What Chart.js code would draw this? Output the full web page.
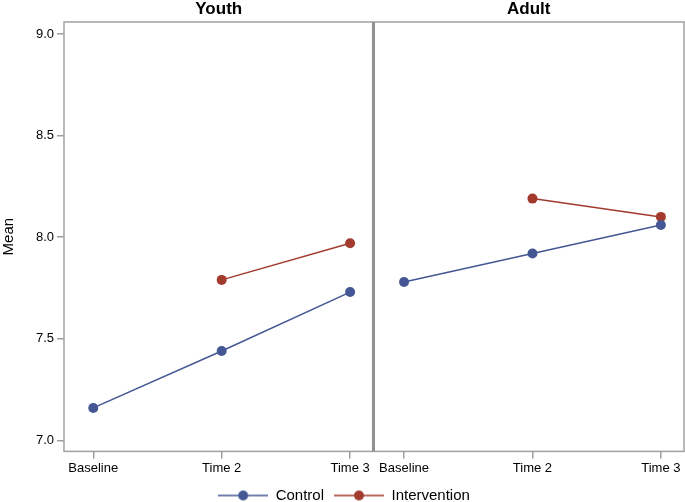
<!DOCTYPE html>
<html>
<head>
<meta charset="utf-8">
<script src="https://cdn.jsdelivr.net/npm/chart.js@4"></script>
<style>
  html, body { margin: 0; padding: 0; background: #fff; overflow: hidden; }
  #wrap { width: 685px; height: 502px; overflow: hidden; }
</style>
</head>
<body>
<div id="wrap"><canvas id="grafico" width="689" height="502"></canvas></div>
<script>
const paineis = ["Youth", "Adult"];
const tempos = ["Baseline", "Time 2", "Time 3"];
const youthControl = [7.16, 7.44, 7.73];
const youthIntervention = [null, 7.79, 7.97];
const adultControl = [7.78, 7.92, 8.06];
const adultIntervention = [null, 8.19, 8.10];
const yTicks = [7.0, 7.5, 8.0, 8.5, 9.0];

const AZUL = "#445694";
const VERMELHO = "#A23A2E";
const CINZA = "#a0a0a0";
const FONTE = "'Liberation Sans', Arial, sans-serif";

// layout dos paineis no eixo x continuo
const deslocAdult = 2.42;
const xMin = -0.228, xMax = 4.6, divisao = 2.182;

function pontos(valores, desloc) {
  const lista = [];
  valores.forEach((v, i) => {
    if (v !== null) lista.push({ x: desloc + i, y: v });
  });
  return lista;
}

function iconeLegenda(cor) {
  const c = document.createElement("canvas");
  c.width = 50; c.height = 12;
  const ctx = c.getContext("2d");
  ctx.strokeStyle = cor;
  ctx.lineWidth = 1.5;
  ctx.beginPath(); ctx.moveTo(0, 6); ctx.lineTo(50, 6); ctx.stroke();
  ctx.fillStyle = cor;
  ctx.beginPath(); ctx.arc(25, 6, 5, 0, Math.PI * 2); ctx.fill();
  return c;
}

const posTicks = [];
const rotulos = {};
paineis.forEach((p, k) => {
  tempos.forEach((t, i) => {
    const v = +(k * deslocAdult + i).toFixed(3);
    posTicks.push(v);
    rotulos[v] = t;
  });
});

function serie(nome, valores, desloc, cor, legenda) {
  return {
    label: nome,
    data: pontos(valores, desloc),
    borderColor: cor,
    backgroundColor: cor,
    borderWidth: 1.5,
    pointRadius: 5,
    pointBorderWidth: 0,
    pointHoverRadius: 5,
    pointStyle: "circle",
    showLine: true,
    legenda: legenda,
    icone: iconeLegenda(cor)
  };
}

const molduraPlugin = {
  id: "moldura",
  afterDatasetsDraw(chart) {
    const { ctx, chartArea, scales } = chart;
    ctx.save();
    ctx.strokeStyle = CINZA;
    ctx.lineWidth = 1.5;
    ctx.strokeRect(chartArea.left, chartArea.top, chartArea.right - chartArea.left, chartArea.bottom - chartArea.top);
    const xd = scales.x.getPixelForValue(divisao);
    ctx.strokeStyle = "#909090";
    ctx.lineWidth = 3;
    ctx.beginPath(); ctx.moveTo(xd, chartArea.top); ctx.lineTo(xd, chartArea.bottom); ctx.stroke();
    // titulos dos paineis
    ctx.fillStyle = "#000";
    ctx.font = "bold 17px " + FONTE;
    ctx.textAlign = "center";
    ctx.textBaseline = "middle";
    const meioY = (scales.x.getPixelForValue(xMin) + xd) / 2;
    const meioA = (xd + scales.x.getPixelForValue(xMax)) / 2;
    ctx.fillText(paineis[0], meioY, 9);
    ctx.fillText(paineis[1], meioA, 9);
    ctx.restore();
  }
};

new Chart(document.getElementById("grafico"), {
  type: "scatter",
  data: {
    datasets: [
      serie("Control", youthControl, 0, AZUL, true),
      serie("Intervention", youthIntervention, 0, VERMELHO, true),
      serie("Control", adultControl, deslocAdult, AZUL, false),
      serie("Intervention", adultIntervention, deslocAdult, VERMELHO, false)
    ]
  },
  options: {
    responsive: false,
    animation: false,
    layout: { padding: { top: 22, right: 1, left: 0, bottom: -11 } },
    plugins: {
      tooltip: { enabled: false },
      legend: {
        position: "bottom",
        labels: {
          generateLabels: (chart) => {
            const itens = Chart.defaults.plugins.legend.labels.generateLabels(chart);
            itens.forEach((it) => { it.pointStyle = chart.data.datasets[it.datasetIndex].icone; });
            return itens;
          },
          filter: (item, data) => data.datasets[item.datasetIndex].legenda,
          usePointStyle: true,
          pointStyleWidth: 50,
          padding: 10,
          color: "#000",
          font: { family: FONTE, size: 15 }
        }
      }
    },
    scales: {
      x: {
        type: "linear",
        min: xMin,
        max: xMax,
        afterBuildTicks: (scale) => { scale.ticks = posTicks.map(v => ({ value: v })); },
        afterFit: (scale) => { scale.paddingLeft = 0; scale.paddingRight = 0; },
        ticks: {
          autoSkip: false,
          maxRotation: 0,
          padding: 2,
          color: "#000",
          font: { family: FONTE, size: 13 },
          callback: (v) => rotulos[+v.toFixed(3)] || ""
        },
        grid: { drawOnChartArea: false, drawTicks: true, tickLength: 7, color: CINZA, lineWidth: 1.5 },
        border: { display: false }
      },
      y: {
        min: 6.946,
        max: 9.059,
        afterBuildTicks: (scale) => { scale.ticks = yTicks.map(v => ({ value: v })); },
        afterFit: (scale) => { scale.width = 64; },
        ticks: {
          padding: 3,
          color: "#000",
          font: { family: FONTE, size: 13 },
          callback: (v) => v.toFixed(1)
        },
        grid: { drawOnChartArea: false, drawTicks: true, tickLength: 7, color: CINZA, lineWidth: 1.5 },
        border: { display: false },
        title: {
          display: true,
          text: "Mean",
          color: "#000",
          padding: { top: 0, bottom: 0 },
          font: { family: FONTE, size: 15 }
        }
      }
    }
  },
  plugins: [molduraPlugin]
});
</script>
</body>
</html>
